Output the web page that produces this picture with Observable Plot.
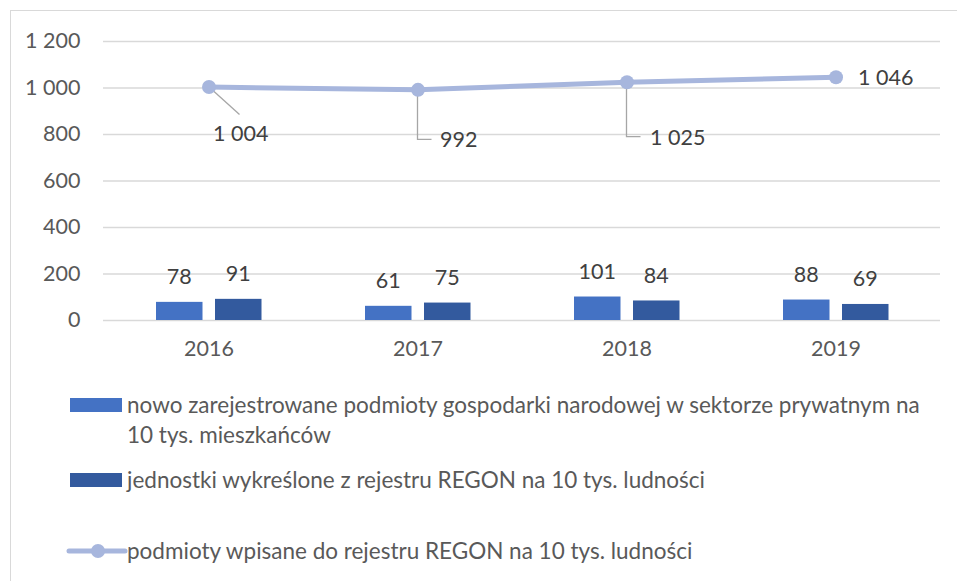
<!DOCTYPE html>
<html>
<head>
<meta charset="utf-8">
<script src="https://cdn.jsdelivr.net/npm/d3@7"></script>
<script src="https://cdn.jsdelivr.net/npm/@observablehq/plot@0.6"></script>
<style>
  html, body { margin: 0; padding: 0; background: #fff; }
  #wrap { position: relative; width: 957px; height: 581px; overflow: hidden; font-family: Lato, sans-serif; color: #595959; }
  #frame { position: absolute; left: 10px; top: 10px; right: -2px; bottom: -2px; border-left: 1px solid #D9D9D9; border-top: 1px solid #D9D9D9; }
  #chart { position: absolute; left: 0; top: 0; }
  .lg { position: absolute; font-size: 22.5px; line-height: 30px; white-space: nowrap; }
  .sw { position: absolute; }
</style>
</head>
<body>
<div id="wrap">
  <div id="frame"></div>
  <div id="chart"></div>
  <div id="legend"></div>
</div>
<script>
// ---- data ----
const years = ["2016", "2017", "2018", "2019"];
const newEntities = [78, 61, 101, 88];      // nowo zarejestrowane podmioty ... na 10 tys. mieszkańców
const removedUnits = [91, 75, 84, 69];      // jednostki wykreślone z rejestru REGON na 10 tys. ludności
const registered = [1004, 992, 1025, 1046]; // podmioty wpisane do rejestru REGON na 10 tys. ludności
const yTicks = [0, 200, 400, 600, 800, 1000, 1200];
const seriesNames = [
  "nowo zarejestrowane podmioty gospodarki narodowej w sektorze prywatnym na 10 tys. mieszkańców",
  "jednostki wykreślone z rejestru REGON na 10 tys. ludności",
  "podmioty wpisane do rejestru REGON na 10 tys. ludności"
];
const colors = ["#4472C4", "#335A9E", "#A7B6DD"];

// label placement styling for the line labels (pixel offsets from the point)
const lineLabelStyle = [
  {dx: 4, dy: 47, leader: "diag", lx: 31, ly: 28},
  {dx: 22, dy: 50, leader: "elbow", lx: 14, ly: 50},
  {dx: 23, dy: 56, leader: "elbow", lx: 14, ly: 55},
  {dx: 22, dy: 1, leader: null}
];

const rows = years.map((y, i) => ({
  year: y, a: newEntities[i], b: removedUnits[i], c: registered[i], i
}));

const locale = d3.formatLocale({decimal: ",", thousands: "\u00a0", grouping: [3], currency: ["", ""]});
const fmt = locale.format(",");
const fmtSp = v => fmt(v).replace(/\u00a0/g, " ");

const font = "Lato, sans-serif";
const chart = Plot.plot({
  width: 957,
  height: 375,
  marginTop: 41,
  marginBottom: 55,
  marginLeft: 103,
  marginRight: 17,
  style: {fontFamily: font, fontSize: "21.5px", color: "#595959", background: "transparent", overflow: "visible"},
  x: {domain: years, padding: 0, label: null, tickSize: 0, tickPadding: 20},
  y: {domain: [0, 1200], label: null, ticks: yTicks, tickSize: 0, tickPadding: 23, tickFormat: fmtSp},
  marks: [
    Plot.gridY(yTicks, {stroke: "#D9D9D9", strokeOpacity: 1, strokeWidth: 1.3}),
    Plot.barY(rows, {x: "year", y: "a", fill: colors[0], insetLeft: 52, insetRight: 110.5}),
    Plot.barY(rows, {x: "year", y: "b", fill: colors[1], insetLeft: 111, insetRight: 51.5}),
    Plot.text(rows, {x: "year", y: "a", text: d => fmtSp(d.a), dx: -29.75, dy: -25, fill: "#404040"}),
    Plot.text(rows, {x: "year", y: "b", text: d => fmtSp(d.b), dx: 29.25, dy: -25, fill: "#404040"}),
    Plot.line(rows, {x: "year", y: "c", stroke: colors[2], strokeWidth: 5, curve: "linear"}),
    Plot.dot(rows, {x: "year", y: "c", r: 7, fill: colors[2], stroke: "none"}),
    ...rows.map((d, i) => Plot.text([d], {
      x: "year", y: "c", text: r => fmtSp(r.c), textAnchor: "start",
      dx: lineLabelStyle[i].dx, dy: lineLabelStyle[i].dy, fill: "#404040"
    }))
  ]
});
document.getElementById("chart").appendChild(chart);

// leader lines drawn through the plot's own scales
const xs = chart.scale("x"), ys = chart.scale("y");
const svg = d3.select(chart);
const g = svg.insert("g", ":scope > g[aria-label='line']").attr("stroke", "#A6A6A6").attr("fill", "none").attr("stroke-width", 1.3);
rows.forEach((d, i) => {
  const s = lineLabelStyle[i];
  if (!s.leader) return;
  const px = xs.apply(d.year) + xs.bandwidth / 2;
  const py = ys.apply(d.c);
  const path = s.leader === "diag"
    ? `M${px},${py}L${px + s.lx},${py + s.ly}`
    : `M${px},${py}L${px},${py + s.ly}L${px + s.lx},${py + s.ly}`;
  g.append("path").attr("d", path);
});

// legend
const legend = document.getElementById("legend");
legend.innerHTML = `
  <div class="sw" style="left:70px;top:398px;width:52px;height:14px;background:${colors[0]}"></div>
  <div class="lg" style="left:127px;top:390px;">${seriesNames[0].replace(" na 10 tys.", " na<br>10 tys.")}</div>
  <div class="sw" style="left:70px;top:473px;width:52px;height:14px;background:${colors[1]}"></div>
  <div class="lg" style="left:127px;top:465px;">${seriesNames[1]}</div>
  <svg class="sw" style="left:66px;top:541px" width="62" height="20">
    <line x1="3" y1="10" x2="59" y2="10" stroke="${colors[2]}" stroke-width="5" stroke-linecap="round"></line>
    <circle cx="32" cy="10" r="7" fill="${colors[2]}"></circle>
  </svg>
  <div class="lg" style="left:127px;top:536px;">${seriesNames[2]}</div>
`;
</script>
</body>
</html>
